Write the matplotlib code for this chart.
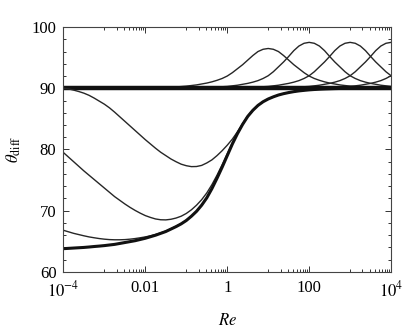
import numpy as np
import matplotlib
matplotlib.use("Agg")
import matplotlib.pyplot as plt
from matplotlib.ticker import FixedLocator, NullFormatter, MultipleLocator

plt.rcParams['font.family'] = ['Liberation Serif', 'DejaVu Serif']
plt.rcParams['mathtext.fontset'] = 'stix'

log_re = np.linspace(-4.0, 4.0, 65)
re = 10.0 ** log_re

theta_base = [63.8, 63.85, 63.9, 63.95, 64.0, 64.07, 64.15, 64.22, 64.3, 64.4, 64.5, 64.65,
              64.8, 64.95, 65.1, 65.3, 65.5, 65.75, 66.0, 66.3, 66.6, 67.0, 67.4, 67.85,
              68.4, 69.1, 69.9, 70.9, 72.1, 73.6, 75.3, 77.1, 79.0, 80.9, 82.6, 84.1,
              85.4, 86.4, 87.2, 87.8, 88.25, 88.6, 88.9, 89.12, 89.3, 89.45, 89.57, 89.66,
              89.74, 89.8, 89.85, 89.89, 89.92, 89.95, 89.97, 89.99, 90.0, 90.0, 90.0, 90.0,
              90.0, 90.0, 90.0, 90.0, 90.0]
theta_dip2 = [66.8, 66.55, 66.3, 66.1, 65.9, 65.72, 65.58, 65.45, 65.35, 65.28, 65.25, 65.25,
              65.28, 65.35, 65.45, 65.58, 65.72, 65.9, 66.12, 66.38, 66.68, 67.05, 67.45, 67.9,
              68.45, 69.1, 69.9, 70.9, 72.1, 73.6, 75.3, 77.1, 79.0, 80.9, 82.6, 84.1,
              85.4, 86.4, 87.2, 87.8, 88.25, 88.6, 88.9, 89.12, 89.3, 89.45, 89.57, 89.66,
              89.74, 89.8, 89.85, 89.89, 89.92, 89.95, 89.97, 89.99, 90.0, 90.0, 90.0, 90.0,
              90.0, 90.0, 90.0, 90.0, 90.0]
theta_dip3 = [79.5, 78.75, 78.0, 77.25, 76.5, 75.8, 75.1, 74.4, 73.7, 73.0, 72.3, 71.7,
              71.1, 70.55, 70.05, 69.6, 69.2, 68.9, 68.65, 68.52, 68.5, 68.6, 68.8, 69.1,
              69.55, 70.15, 70.9, 71.8, 72.9, 74.25, 75.8, 77.5, 79.3, 81.1, 82.75, 84.2,
              85.45, 86.4, 87.2, 87.8, 88.25, 88.6, 88.9, 89.12, 89.3, 89.45, 89.57, 89.66,
              89.74, 89.8, 89.85, 89.89, 89.92, 89.95, 89.97, 89.99, 90.0, 90.0, 90.0, 90.0,
              90.0, 90.0, 90.0, 90.0, 90.0]
theta_dip4 = [90.0, 89.9, 89.7, 89.47, 89.2, 88.85, 88.4, 87.9, 87.4, 86.8, 86.1, 85.35,
              84.6, 83.85, 83.1, 82.35, 81.6, 80.9, 80.2, 79.55, 79.0, 78.45, 78.0, 77.6,
              77.35, 77.2, 77.22, 77.4, 77.8, 78.3, 79.0, 79.8, 80.7, 81.7, 82.9, 84.2,
              85.45, 86.4, 87.2, 87.8, 88.25, 88.6, 88.9, 89.12, 89.3, 89.45, 89.57, 89.66,
              89.74, 89.8, 89.85, 89.89, 89.92, 89.95, 89.97, 89.99, 90.0, 90.0, 90.0, 90.0,
              90.0, 90.0, 90.0, 90.0, 90.0]
theta_flat = [90.0] * 65

# upper family: bumps above 90, read on a grid log10(Re) = -1.5 ... 4
log_re_b = np.linspace(-1.5, 4.0, 45)
re_b = 10.0 ** log_re_b

theta_bump1 = [90.13, 90.17, 90.22, 90.28, 90.35, 90.45, 90.55, 90.7, 90.85, 91.05, 91.3, 91.6,
               92.0, 92.55, 93.2, 93.85, 94.6, 95.35, 96.0, 96.37, 96.5, 96.37, 96.0, 95.35,
               94.6, 93.85, 93.2, 92.55, 92.0, 91.6, 91.3, 91.05, 90.85, 90.7, 90.55, 90.45,
               90.35, 90.28, 90.22, 90.17, 90.13, 90.1, 90.08, 90.06, 90.05]
theta_bump2 = [90.0, 90.01, 90.02, 90.03, 90.04, 90.05, 90.07, 90.1, 90.12, 90.15, 90.2, 90.25,
               90.3, 90.4, 90.5, 90.65, 90.8, 91.0, 91.25, 91.6, 92.05, 92.7, 93.5, 94.3,
               95.2, 96.15, 96.9, 97.35, 97.5, 97.35, 96.9, 96.15, 95.2, 94.3, 93.5, 92.7,
               92.05, 91.6, 91.25, 91.0, 90.8, 90.65, 90.5, 90.4, 90.3]
theta_bump3 = [90.0, 90.0, 90.0, 90.0, 90.0, 90.0, 90.0, 90.0, 90.0, 90.01, 90.02, 90.03,
               90.04, 90.05, 90.07, 90.1, 90.12, 90.15, 90.2, 90.25, 90.3, 90.4, 90.5, 90.65,
               90.8, 91.0, 91.25, 91.6, 92.05, 92.7, 93.5, 94.3, 95.2, 96.15, 96.9, 97.35,
               97.5, 97.35, 96.9, 96.15, 95.2, 94.3, 93.5, 92.7, 92.05]
theta_bump4 = [90.0, 90.0, 90.0, 90.0, 90.0, 90.0, 90.0, 90.0, 90.0, 90.0, 90.0, 90.0,
               90.0, 90.0, 90.0, 90.0, 90.0, 90.01, 90.02, 90.03, 90.04, 90.05, 90.07, 90.1,
               90.12, 90.15, 90.2, 90.25, 90.3, 90.4, 90.5, 90.65, 90.8, 91.0, 91.25, 91.6,
               92.05, 92.7, 93.5, 94.3, 95.2, 96.15, 96.9, 97.35, 97.5]
theta_bump5 = [90.0, 90.0, 90.0, 90.0, 90.0, 90.0, 90.0, 90.0, 90.0, 90.0, 90.0, 90.0,
               90.0, 90.0, 90.0, 90.0, 90.0, 90.0, 90.0, 90.0, 90.0, 90.0, 90.0, 90.0,
               90.0, 90.01, 90.02, 90.03, 90.04, 90.05, 90.07, 90.1, 90.12, 90.15, 90.2, 90.25,
               90.3, 90.4, 90.5, 90.65, 90.8, 91.0, 91.25, 91.6, 92.05]

x_ticks = [1e-4, 1e-2, 1, 1e2, 1e4]
x_ticklabels = [r'$10^{-4}$', '0.01', '1', '100', r'$10^{4}$']
y_ticks = [60, 70, 80, 90, 100]

fig = plt.figure(figsize=(4.04, 3.30), dpi=100)
ax = fig.add_axes([0.157, 0.176, 0.811, 0.742])

lc = '#262626'
thin = 1.0
for y in [theta_bump1, theta_bump2, theta_bump3, theta_bump4, theta_bump5]:
    ax.plot(re_b, y, color=lc, lw=thin)
ax.plot(re, theta_flat, color='#111111', lw=3.2, solid_capstyle='butt')
ax.plot(re, theta_dip4, color=lc, lw=thin)
ax.plot(re, theta_dip3, color=lc, lw=thin)
ax.plot(re, theta_dip2, color=lc, lw=thin)
ax.plot(re, theta_base, color='#111111', lw=2.2)

ax.set_xscale('log')
ax.set_xlim(1e-4, 1e4)
ax.set_ylim(60, 100)

ax.xaxis.set_major_locator(FixedLocator(x_ticks))
ax.set_xticklabels(x_ticklabels)
minor_x = []
for e in [-3, -1, 1, 3]:
    minor_x.append(10.0 ** e)
    for k in range(2, 10):
        minor_x.append(k * 10.0 ** e)
ax.xaxis.set_minor_locator(FixedLocator(minor_x))
ax.xaxis.set_minor_formatter(NullFormatter())
ax.yaxis.set_major_locator(FixedLocator(y_ticks))
ax.yaxis.set_minor_locator(MultipleLocator(2))

ax.tick_params(which='both', direction='in', top=True, right=True, colors='#333333',
               labelcolor='black', labelsize=12, width=0.7)
ax.tick_params(which='major', length=4)
ax.tick_params(axis='x', which='major', pad=6)
ax.tick_params(axis='y', which='major', pad=5)
ax.tick_params(which='minor', length=2)
for s in ax.spines.values():
    s.set_color('#444444')
    s.set_linewidth(0.8)

ax.set_xlabel(r'$Re$', fontsize=12, labelpad=9)
ax.set_ylabel(r'$\theta_{\rm diff}$', fontsize=12, labelpad=6)

fig.savefig('out.png', dpi=100)
